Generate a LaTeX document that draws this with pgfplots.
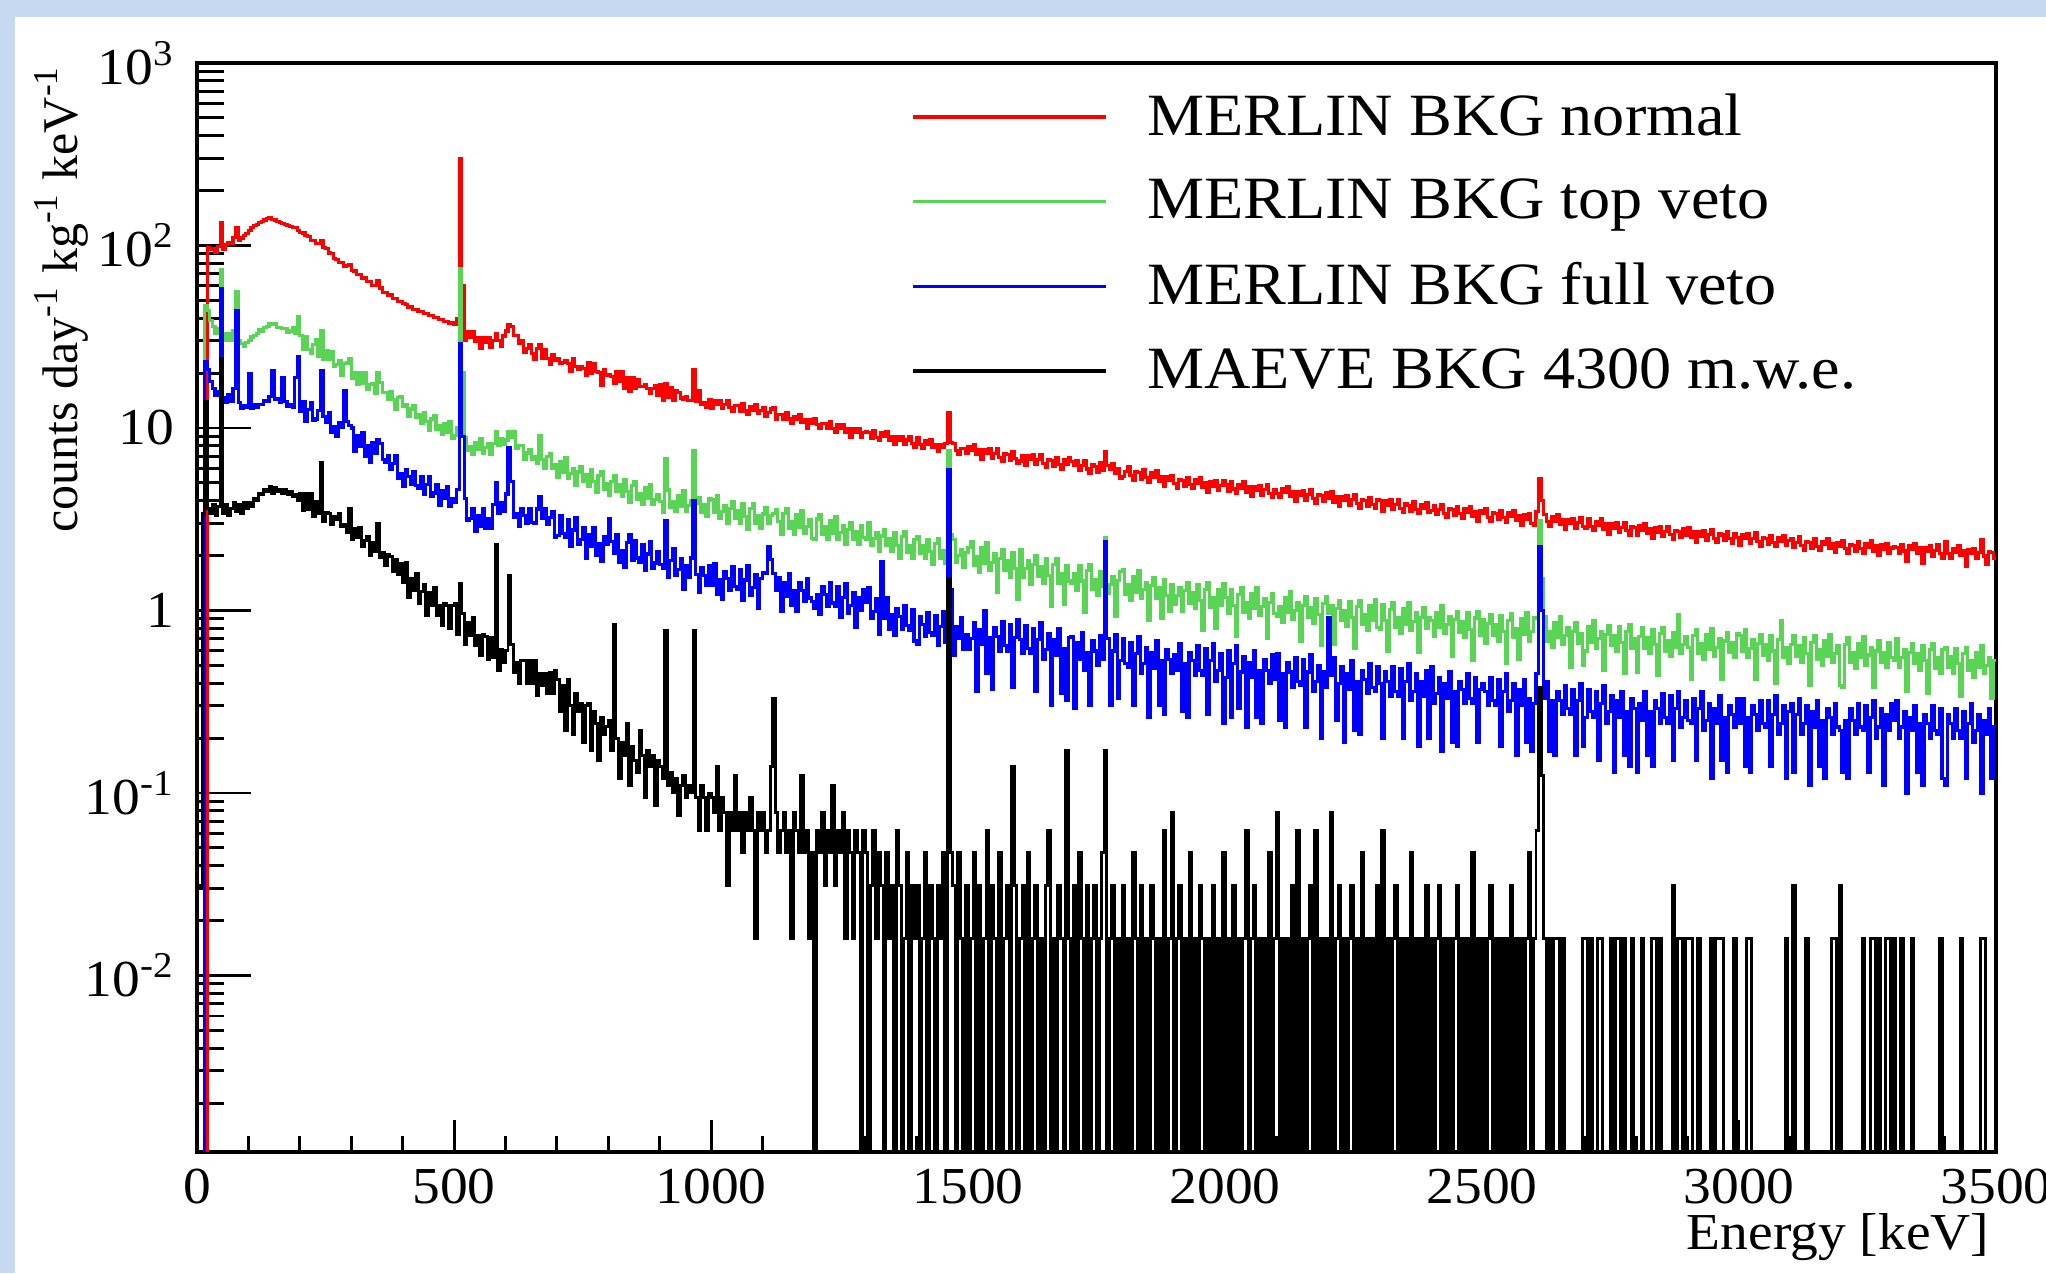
\documentclass[border=0pt]{standalone}
\usepackage{fontspec}
\setmainfont{Liberation Serif}[FakeStretch=1.07]
\newfontfamily\ylabfont{Liberation Serif}
\usepackage{pgfplots}
\usepackage{pgfplotstable}
\pgfplotsset{compat=1.18}

\definecolor{slideblue}{RGB}{198,217,240}
\definecolor{rootgreen}{RGB}{89,212,84}

% energy [keV] (bin low edge), normal, top veto, full veto, MAEVE; 1e-4 = empty bin
\pgfplotstableread{
E R G B K
0 1e-4 1e-4 1e-4 0.031
5 1e-4 1e-4 1e-4 0.031
10 1e-4 1e-4 1e-4 3.4
15 1e-4 47 23 14
20 97 44 21 3.6
25 95 39 18 3.4
30 96 36 16.5 3.8
35 92 33 15 3.3
40 99 35 15.8 3.7
45 133 74 58 24
50 95 33 14.6 3.4
55 101 30 13.8 3.8
60 104 33 15.2 3.3
65 102 30 14 3.6
70 111 34 16.5 3.9
75 125 56 44 3.5
80 107 30 13.8 3.8
85 110 29 12.8 3.4
90 113 28 13.2 3.9
95 116 29.5 12.9 3.6
100 121 30 19.8 3.9
105 126 31.5 12.8 3.7
110 128 32 13.4 4.1
115 131 33 13 4.0
120 133 34.5 13.5 4.4
125 136 34 13.4 4.3
130 138 35.5 14.1 4.6
135 140 36 13.9 4.5
140 142 37.5 14.8 4.8
145 139 37 20.6 4.4
150 138 37.5 14.3 4.7
155 136 35.5 14.5 4.5
160 134 35.5 13.8 4.6
165 132 35 19 4.4
170 131 35 13.9 4.6
175 128 33.5 13.2 4.3
180 127 34 13.4 4.5
185 126 35.5 12.9 4.2
190 125 33 19 4.3
195 121 41 24.5 4.0
200 118 32.1 12.4 4.35
205 117 27.0 13.9 3.55
210 113 31.6 10.9 4.35
215 112 27.0 12.6 3.57
220 107 25.7 13.8 4.37
225 107 28.6 11.0 3.26
230 102 30.5 11.2 3.97
235 102 24.7 12.5 3.42
240 107 34 20.6 6.5
245 97 23.7 11.6 3.06
250 96 26.5 10.7 3.45
255 91 23.8 12.1 3.42
260 90 26.2 9.5 2.96
265 85 21.8 10.2 3.26
270 84 22.2 9.0 3.15
275 81 23.4 10.7 3.39
280 81 19.3 10.1 2.88
285 77 22.5 16 2.96
290 78 22.7 10.8 2.67
295 79 24 10.3 3.6
300 73 18.8 10.0 2.46
305 72.5 20.1 7.4 2.8
310 69 17.3 9.1 2.52
315 69 20.0 7.9 2.86
320 66 17.5 9.4 2.25
325 66.5 20.2 7.0 2.43
330 63.5 16.3 8.0 2.54
335 63.5 17.4 6.5 2.0
340 60.5 17.6 8.3 2.35
345 60.5 15.5 7.3 2.11
350 64 20 8.6 3.0
355 58.5 17.7 8.2 1.95
360 55.5 15.6 6.7 2.09
365 55.5 15.7 6.5 1.76
370 53.5 14.3 7.1 2.04
375 53.5 15.9 5.9 1.97
380 51.5 14.4 6.4 1.64
385 51.5 12.6 7.1 1.9
390 49.5 14.7 5.3 1.58
395 49.5 14.9 5.6 1.81
400 48 13.2 4.8 1.42
405 47.5 13.5 5.9 1.84
410 46 11.5 5.4 1.18
415 46 12.7 4.9 1.5
420 44.8 13.2 5.8 1.28
425 44.8 11.4 4.85 1.6
430 43.3 11.8 4.65 1.09
435 43.3 10.6 5.4 1.27
440 42.2 12.2 4.3 1.38
445 42.2 10.8 4.9 0.94
450 41.3 9.7 5.4 1.25
455 41.3 11.2 4.2 1.07
460 40.3 11.7 4.4 1.34
465 40.3 9.8 4.9 0.94
470 39.3 10.3 3.75 1.07
475 39.3 9.2 4.55 0.83
480 38.3 10.6 4.1 1.09
485 38.3 9.4 4.8 1.06
490 37.6 10.8 3.7 0.8
495 37.6 8.8 4.1 1.06
500 37 9.1 3.9 1.09
505 40 10 4.6 0.74
510 300 75 29 1.4
515 60 20 9 0.96
520 30.2 8.9 4.1 0.65
525 33.6 7.5 3.1 0.86
530 31.5 7.9 3.2 0.73
535 33.8 7.2 3.6 0.92
540 29.8 8.3 2.7 0.64
545 31.4 7.6 3.3 0.73
550 27.3 8.7 2.9 0.57
555 31.2 7.3 3.6 0.74
560 29.3 7.8 2.8 0.72
565 31.4 8.2 3.2 0.54
570 27.6 7.2 2.8 0.71
575 30.3 8.2 3.8 0.55
580 33 9.5 5.0 2.3
585 30.1 8.0 3.4 0.47
590 28.1 8.7 3.9 0.61
595 31.9 8.1 3.5 0.52
600 34 8.6 4.35 0.6
605 37 9.6 7.8 1.55
610 36 8.9 5.1 0.65
615 32 9.6 3.25 0.46
620 32.2 7.7 3.4 0.52
625 29.2 8.0 2.9 0.4
630 30.2 8.0 3.6 0.53
635 25.9 6.7 3.3 0.53
640 27.3 7.3 3.0 0.4
645 28.6 7.6 3.6 0.53
650 25.7 6.7 3.05 0.4
655 23.9 7.0 3.0 0.53
660 27.3 6.4 3.6 0.34
665 28.5 9.1 4.2 0.45
670 24.2 6.7 3.2 0.39
675 26.8 6.0 3.6 0.45
680 24 7.0 2.95 0.35
685 22.3 7.2 3.25 0.46
690 25.2 6.0 3.5 0.35
695 23.5 6.3 2.5 0.47
700 24.1 5.34 2.58 0.42
705 22.7 6.53 3.32 0.28
710 22.9 5.70 2.65 0.39
715 23.5 6.87 2.51 0.22
720 22.5 5.30 3.15 0.42
725 20.5 5.64 2.24 0.3
730 23.9 6.03 2.76 0.21
735 21.8 4.85 3.21 0.35
740 20.9 5.74 2.29 0.28
745 21.7 6.17 2.46 0.31
750 21.2 5.08 2.83 0.19
755 19.3 5.56 1.94 0.3
760 22.7 4.76 2.61 0.31
765 19.8 5.92 2.25 0.17
770 22.5 5.08 2.86 0.28
775 20.4 4.41 2.0 0.24
780 20.2 5.49 2.32 0.15
785 17.1 5.78 1.86 0.26
790 20.8 4.63 2.53 0.21
795 19.4 4.98 2.31 0.23
800 19.7 4.29 3.2 0.25
805 19.2 5.08 2.38 0.17
810 17.5 5.46 2.05 0.84
815 20.5 4.49 2.61 0.2
820 18.0 4.92 1.84 0.12
825 20.3 4.21 2.14 0.19
830 16.4 5.23 1.72 0.16
835 18.8 4.49 2.35 0.24
840 15.9 3.90 2.6 0.11
845 18.9 4.84 1.88 0.18
850 16.5 5.11 2.42 0.15
855 18.4 4.08 1.94 0.13
860 16.8 4.39 1.84 0.22
865 16.8 3.83 2.31 0.16
870 17.3 4.69 1.65 0.095
875 16.4 4.09 2.04 0.17
880 15.4 4.92 2.38 0.14
885 16.4 3.80 1.69 0.16
890 17.1 4.05 1.82 0.085
895 15.1 4.33 2.10 0.15
900 17.3 3.97 1.78 0.14
905 14.2 3.46 1.69 0.12
910 17.5 6.8 3.1 0.78
915 14.7 4.57 1.51 0.11
920 16.6 3.67 1.87 0.13
925 14.2 3.97 2.18 0.1
930 16.0 3.47 1.55 0.12
935 15.6 4.27 1.67 0.075
940 14.6 3.74 1.92 0.11
945 14.3 4.52 1.31 0.125
950 14.8 3.51 1.77 0.094
955 14.2 3.75 1.52 0.11
960 14.1 4.02 1.94 0.1
965 21 7.5 4.0 0.78
970 13.9 3.87 1.58 0.094
975 16.1 4.18 1.26 0.062
980 13.4 3.45 1.72 0.11
985 13.8 3.80 1.56 0.094
990 13.0 3.27 1.37 0.062
995 14.4 4.08 1.76 0.1
1000 12.8 4.03 1.38 0.094
1005 14.1 3.44 1.81 0.078
1010 13.5 4.27 1.23 0.14
1015 14.2 3.19 1.48 0.062
1020 12.8 3.48 1.15 0.094
1025 13.5 3.78 1.64 0.078
1030 14.1 2.99 1.49 0.031
1035 12.9 3.63 1.29 0.078
1040 12.3 3.96 1.73 0.062
1045 13.3 3.21 1.35 0.125
1050 13.3 3.54 1.30 0.062
1055 12.4 3.01 1.68 0.078
1060 13.6 3.83 1.14 0.047
1065 12.4 3.27 1.47 0.078
1070 11.9 2.79 1.77 0.062
1075 13.1 3.63 1.21 0.094
1080 12.5 3.87 1.34 0.062
1085 13.4 3.0 1.58 0.016
1090 12.0 3.30 1.03 0.078
1095 12.5 2.80 1.49 0.062
1100 12.9 3.38 1.62 0.078
1105 11.6 3.68 1.6 0.047
1110 12.2 2.99 2.25 0.062
1115 12.7 3.30 1.9 0.14
1120 13 3.4 1.6 0.33
1125 11.1 3.57 1.28 0.078
1130 11.9 3.06 1.52 0.047
1135 11.8 2.60 0.99 0.062
1140 11.1 3.39 1.42 0.078
1145 12.2 3.61 1.20 0.047
1150 11.2 2.81 1.59 0.062
1155 10.6 3.09 1.07 0.016
1160 11.6 2.62 1.29 0.078
1165 11.1 3.36 0.99 0.062
1170 11.9 2.86 1.43 0.047
1175 10.7 3.55 1.29 0.125
1180 11.1 2.66 1.12 0.047
1185 10.0 2.90 1.50 0.062
1190 11.1 3.15 1.17 0.016
1195 10.6 2.49 1.12 0.047
1200 11.3 2.44 1.02 1e-4
1205 10.4 3.17 1.23 0.062
1210 9.9 3.37 0.95 0.047
1215 10.6 2.61 1.36 0.078
1220 10.6 2.88 1.23 0.031
1225 9.9 2.44 1.05 0.062
1230 10.8 3.11 1.42 0.047
1235 9.9 2.65 1.10 0.11
1240 9.4 3.29 1.05 0.031
1245 10.4 2.45 1.36 0.062
1250 9.9 2.68 0.92 0.047
1255 10.5 2.91 1.18 0.078
1260 9.5 2.30 1.41 0.016
1265 9.9 2.78 0.96 0.062
1270 8.9 3.02 1.07 0.047
1275 9.9 2.46 1.25 0.016
1280 9.4 2.70 0.81 0.062
1285 9.9 2.30 1.17 0.047
1290 8.9 2.93 1.0 1e-4
1295 9.4 2.50 1.30 0.062
1300 9.5 2.45 1.11 0.047
1305 9.4 3.04 1.33 1e-4
1310 8.8 2.26 0.90 0.031
1315 9.7 2.47 0.99 0.062
1320 8.9 2.67 1.16 0.016
1325 8.5 2.12 0.74 0.047
1330 9.4 2.56 1.85 0.031
1335 9.0 2.78 0.90 1e-4
1340 9.5 2.26 1.18 0.047
1345 8.6 2.48 0.79 0.016
1350 9.0 2.11 0.95 0.031
1355 8.1 2.68 0.73 1e-4
1360 9.0 2.28 1.03 0.062
1365 8.6 1.94 0.93 0.031
1370 9.0 2.53 0.79 1e-4
1375 8.1 2.69 1.06 0.016
1380 8.6 2.08 0.83 0.047
1385 9.0 2.28 0.78 1e-4
1390 8.2 1.93 1.01 0.031
1395 7.8 2.46 0.68 0.016
1400 8.85 2.53 0.65 0.031
1405 8.13 2.06 0.93 1e-4
1410 7.76 2.27 0.84 0.016
1415 8.53 1.93 0.72 0.047
1420 8.15 2.45 0.98 1e-4
1425 8.67 2.10 0.76 0.031
1430 7.81 1.79 0.73 0.016
1435 8.16 2.33 0.94 1e-4
1440 7.40 2.49 0.64 0.031
1445 8.16 1.93 0.82 0.016
1450 7.80 2.13 0.99 0.047
1455 8.23 1.81 0.67 1e-4
1460 12.2 7.5 5.9 1.5
1465 8.3 2.6 1.3 0.047
1470 8.24 2.46 0.57 0.031
1475 7.53 1.84 0.82 1e-4
1480 7.18 2.0 0.70 0.047
1485 7.75 2.17 0.91 0.016
1490 7.73 1.72 0.61 1e-4
1495 7.25 2.08 0.74 0.031
1500 7.93 2.22 0.61 1e-4
1505 7.51 2.40 0.70 0.016
1510 8.14 1.76 0.86 0.047
1515 7.14 1.98 0.36 1e-4
1520 7.62 1.62 0.79 0.031
1525 6.71 2.20 0.65 1e-4
1530 7.62 1.81 1.0 0.016
1535 7.23 2.36 0.45 0.062
1540 7.70 1.65 0.71 1e-4
1545 6.80 1.84 0.37 0.031
1550 7.27 2.04 0.81 0.016
1555 7.73 1.25 0.72 1e-4
1560 6.92 1.93 0.60 0.047
1565 6.52 2.15 0.87 1e-4
1570 7.27 1.65 0.64 0.016
1575 7.16 1.87 0.60 0.031
1580 6.64 1.52 0.84 1e-4
1585 7.44 2.07 0.38 0.14
1590 6.78 1.69 0.71 0.031
1595 6.40 1.15 0.89 1e-4
1600 6.60 2.16 0.69 0.016
1605 7.06 1.51 0.58 0.031
1610 6.21 1.69 0.83 1e-4
1615 7.06 1.87 0.62 0.047
1620 6.69 1.39 0.58 1e-4
1625 7.13 1.78 0.80 0.016
1630 6.30 1.99 0.36 0.031
1635 6.74 1.53 0.69 1e-4
1640 7.17 1.73 0.86 0.016
1645 6.41 1.41 0.54 1e-4
1650 6.05 1.92 0.61 0.031
1655 6.75 1.56 0.75 0.062
1660 6.65 1.05 0.30 1e-4
1665 6.17 1.78 0.69 0.016
1670 6.91 1.93 0.57 1e-4
1675 6.30 1.41 0.80 0.031
1680 5.95 1.59 0.35 0.016
1685 6.69 1.08 0.62 1e-4
1690 6.34 1.77 0.32 0.17
1695 6.88 1.45 0.71 0.016
1700 6.55 1.40 0.72 1e-4
1705 6.21 1.59 0.29 0.031
1710 6.63 1.29 0.67 1e-4
1715 5.85 1.77 0.54 0.047
1720 6.25 1.45 0.76 0.016
1725 6.66 0.98 0.47 1e-4
1730 5.96 1.65 0.59 0.031
1735 5.62 1.78 0.30 1e-4
1740 6.27 1.31 0.68 0.016
1745 6.18 1.48 0.60 0.031
1750 5.73 1.21 0.50 1e-4
1755 6.43 1.64 0.73 0.016
1760 5.86 1.35 0.54 0.047
1765 7.4 2.5 2.4 0.17
1770 6.23 1.24 0.70 1e-4
1775 5.9 1.39 0.30 0.016
1780 6.41 1.53 0.60 0.031
1785 5.62 0.93 0.74 1e-4
1790 6.0 1.46 0.33 0.016
1795 5.28 1.63 0.53 1e-4
1800 5.43 1.67 0.70 0.031
1805 5.80 1.22 0.51 1e-4
1810 6.17 1.39 0.49 0.016
1815 5.50 1.13 0.67 1e-4
1820 5.19 1.54 0.30 0.047
1825 5.77 1.26 0.58 0.016
1830 5.68 1.66 0.72 1e-4
1835 5.25 1.16 0.45 0.031
1840 5.89 1.30 0.51 1e-4
1845 5.35 1.43 0.63 0.016
1850 5.05 0.88 0.26 1e-4
1855 5.67 1.37 0.59 0.031
1860 5.37 1.52 0.48 0.016
1865 5.81 1.17 0.68 1e-4
1870 5.09 1.33 0.30 0.016
1875 5.43 0.90 0.53 1e-4
1880 4.77 1.48 0.27 0.062
1885 5.42 1.21 0.61 1e-4
1890 5.13 0.99 0.54 0.016
1895 5.46 1.38 0.45 0.078
1900 4.97 1.08 0.57 1e-4
1905 4.69 1.21 0.47 0.016
1910 5.23 1.34 0.66 0.031
1915 5.16 0.99 0.28 1e-4
1920 4.80 1.28 0.51 0.016
1925 5.38 1.43 0.26 1e-4
1930 4.91 1.10 0.59 0.047
1935 4.64 1.25 0.53 1e-4
1940 5.22 1.02 0.44 0.016
1945 4.96 1.39 0.64 1e-4
1950 5.38 1.13 0.47 0.031
1955 4.72 0.78 0.44 0.016
1960 5.05 1.30 0.62 1e-4
1965 4.45 1.42 0.27 0.016
1970 5.06 1.04 0.53 1e-4
1975 4.80 1.17 0.66 0.031
1980 5.13 0.80 0.41 1e-4
1985 4.53 1.31 0.47 0.016
1990 4.85 1.07 0.58 1e-4
1995 5.16 1.41 0.24 0.047
2000 4.87 1.18 0.43 1e-4
2005 4.51 0.96 0.60 0.016
2010 5.07 1.31 0.26 1e-4
2015 4.63 1.07 0.51 0.031
2020 4.38 0.72 0.64 1e-4
2025 4.92 1.23 0.29 0.016
2030 4.68 1.34 0.46 1e-4
2035 5.08 0.98 0.56 0.016
2040 4.46 1.11 0.23 0.062
2045 4.77 0.91 0.52 1e-4
2050 4.20 1.24 0.43 0.016
2055 4.78 1.02 0.60 0.031
2060 4.54 1.34 0.26 1e-4
2065 4.84 0.94 0.47 0.016
2070 4.29 1.05 0.24 1e-4
2075 4.59 1.16 0.54 0.016
2080 4.89 0.70 0.47 1e-4
2085 4.37 1.11 0.40 0.047
2090 4.14 1.24 0.57 1e-4
2095 4.61 0.96 0.42 0.016
2100 4.38 0.93 0.58 0.078
2105 4.14 1.05 0.25 1e-4
2110 4.65 0.86 0.45 0.016
2115 4.42 1.18 0.23 1e-4
2120 4.80 0.97 0.52 0.016
2125 4.20 1.27 0.46 1e-4
2130 4.49 0.89 0.38 0.031
2135 3.95 1.0 0.55 1e-4
2140 4.50 1.11 0.41 0.062
2145 4.27 0.68 0.39 1e-4
2150 4.55 1.06 0.54 0.016
2155 4.01 1.19 0.23 1e-4
2160 4.30 0.92 0.46 0.016
2165 4.58 1.04 0.57 0.031
2170 4.09 0.85 0.36 1e-4
2175 3.86 1.16 0.41 0.062
2180 4.32 0.95 0.50 1e-4
2185 4.25 0.64 0.20 0.016
2190 3.94 1.09 0.46 1e-4
2195 4.43 1.19 0.38 0.016
2200 4.12 0.96 0.91 1e-4
2205 4.48 1.07 0.44 0.078
2210 3.93 0.65 0.55 1e-4
2215 4.20 1.02 0.25 0.016
2220 3.70 1.14 0.40 0.031
2225 4.21 0.88 0.49 1e-4
2230 4.0 1.0 0.19 0.016
2235 4.27 0.82 0.45 1e-4
2240 3.78 1.12 0.37 0.016
2245 4.04 0.92 0.53 0.031
2250 4.31 0.62 0.22 1e-4
2255 3.86 1.05 0.41 0.016
2260 3.64 1.14 0.21 1e-4
2265 4.07 0.84 0.47 0.047
2270 4.02 0.95 0.42 1e-4
2275 3.73 0.78 0.35 0.016
2280 4.18 1.06 0.51 1e-4
2285 3.82 0.88 0.38 0.016
2290 3.62 1.15 0.36 1e-4
2295 4.07 0.81 0.49 0.031
2300 3.99 0.79 0.40 1e-4
2305 3.50 1.08 0.20 0.062
2310 3.99 0.88 0.46 1e-4
2315 3.78 0.60 0.41 0.016
2320 4.04 1.01 0.34 1e-4
2325 3.56 1.10 0.49 0.016
2330 3.82 0.81 0.36 0.031
2335 4.06 0.91 0.34 1e-4
2340 3.64 0.75 0.48 0.016
2345 3.43 1.02 0.20 1e-4
2350 3.83 0.84 0.41 0.016
2355 3.77 1.11 0.51 1e-4
2360 3.51 0.78 0.32 0.047
2365 3.93 0.87 0.36 1e-4
2370 3.59 0.97 0.45 0.016
2375 3.39 0.59 0.18 1e-4
2380 3.81 0.92 0.41 0.016
2385 3.61 1.04 0.34 1e-4
2390 3.92 0.80 0.47 0.031
2395 3.44 0.91 0.20 1e-4
2400 3.53 0.88 0.49 0.016
2405 3.77 0.72 0.31 1e-4
2410 3.34 0.98 0.35 0.016
2415 3.58 0.81 0.43 0.031
2420 3.81 1.06 0.17 1e-4
2425 3.41 0.75 0.40 0.016
2430 3.23 0.84 0.33 1e-4
2435 3.61 0.93 0.46 0.016
2440 3.56 0.56 0.19 1e-4
2445 3.31 0.89 0.36 0.016
2450 3.71 0.99 0.18 0.031
2455 3.39 0.76 0.41 1e-4
2460 3.21 0.87 0.37 0.016
2465 3.61 0.71 0.31 1e-4
2470 3.43 0.97 0.45 0.016
2475 3.73 0.79 0.33 1e-4
2480 3.27 0.53 0.31 0.047
2485 3.50 0.91 0.43 1e-4
2490 3.08 0.99 0.19 0.016
2495 3.52 0.73 0.37 1e-4
2500 3.40 0.89 0.40 0.016
2505 3.63 0.66 0.36 1e-4
2510 3.25 0.85 0.30 0.016
2515 3.07 0.95 0.43 0.031
2520 3.43 0.73 0.32 1e-4
2525 3.39 0.84 0.30 0.016
2530 3.14 0.68 0.42 1e-4
2535 3.53 0.94 0.18 0.016
2540 3.22 0.77 0.36 1e-4
2545 3.05 0.51 0.45 0.016
2550 3.43 0.88 0.28 1e-4
2555 3.26 0.96 0.32 0.031
2560 3.54 0.71 0.40 1e-4
2565 3.11 0.80 0.16 0.016
2570 3.33 0.54 0.37 1e-4
2575 2.93 0.90 0.30 0.016
2580 3.34 0.74 0.42 1e-4
2585 3.17 0.97 0.19 0.016
2590 3.38 0.68 0.33 0.047
2595 2.99 0.77 0.17 1e-4
2600 2.92 0.91 0.31 0.016
2605 3.5 0.9 0.45 0.062
2610 5.25 3.1 2.25 0.38
2615 4.0 1.5 1.0 0.125
2620 3.34 0.93 0.33 0.016
2625 3.06 0.68 0.41 1e-4
2630 2.89 0.77 0.17 0.016
2635 3.26 0.63 0.32 1e-4
2640 3.09 0.86 0.16 0.016
2645 3.36 0.71 0.36 0.016
2650 2.95 0.93 0.32 1e-4
2655 3.15 0.65 0.27 0.016
2660 2.78 0.73 0.39 1e-4
2665 3.16 0.81 0.29 1e-4
2670 3.0 0.49 0.27 1e-4
2675 3.20 0.77 0.37 1e-4
2680 2.83 0.86 0.16 1e-4
2685 3.03 0.66 0.32 1e-4
2690 3.23 0.75 0.40 1e-4
2695 2.89 0.50 0.18 0.016
2700 2.82 0.60 0.26 0.016
2705 3.17 0.82 0.37 1e-4
2710 2.89 0.67 0.28 0.016
2715 2.73 0.88 0.26 1e-4
2720 3.08 0.62 0.36 1e-4
2725 2.92 0.70 0.15 0.016
2730 3.17 0.77 0.31 0.016
2735 2.78 0.47 0.39 1e-4
2740 2.98 0.74 0.24 1e-4
2745 2.62 0.83 0.28 1e-4
2750 2.98 0.64 0.34 0.016
2755 2.83 0.73 0.13 1e-4
2760 3.02 0.60 0.32 0.016
2765 2.67 0.82 0.26 0.016
2770 2.86 0.67 0.36 1e-4
2775 3.05 0.45 0.16 0.016
2780 2.73 0.77 0.28 1e-4
2785 2.58 0.84 0.14 1e-4
2790 2.88 0.62 0.33 0.016
2795 2.85 0.70 0.29 1e-4
2800 2.59 0.46 0.13 1e-4
2805 2.91 0.72 0.31 1e-4
2810 2.76 0.81 0.25 0.016
2815 3.01 0.62 0.36 1e-4
2820 2.64 0.71 0.16 1e-4
2825 2.82 0.58 0.28 1e-4
2830 2.48 0.79 0.14 0.016
2835 2.83 0.65 0.32 0.016
2840 2.69 0.44 0.29 1e-4
2845 2.87 0.75 0.24 0.016
2850 2.54 0.81 0.35 1e-4
2855 2.72 0.60 0.26 1e-4
2860 2.89 0.68 0.24 1e-4
2865 2.60 0.56 0.34 1e-4
2870 2.46 0.76 0.15 0.031
2875 2.74 0.63 0.29 1e-4
2880 2.70 0.95 0.36 0.016
2885 2.51 0.58 0.23 0.016
2890 2.82 0.65 0.26 1e-4
2895 2.58 0.72 0.32 0.016
2900 2.86 0.63 0.25 0.016
2905 2.51 0.42 0.24 0.016
2910 2.69 0.73 0.33 1e-4
2915 2.37 0.79 0.15 1e-4
2920 2.70 0.58 0.29 0.016
2925 2.56 0.66 0.36 1e-4
2930 2.73 0.54 0.22 1e-4
2935 2.43 0.74 0.25 1e-4
2940 2.60 0.61 0.31 1e-4
2945 2.78 0.80 0.12 0.016
2950 2.48 0.56 0.29 1e-4
2955 2.36 0.63 0.24 0.016
2960 2.63 0.70 0.34 0.016
2965 2.59 0.42 0.15 0.016
2970 2.41 0.68 0.26 1e-4
2975 2.71 0.76 0.13 1e-4
2980 2.48 0.59 0.30 1e-4
2985 2.34 0.67 0.27 1e-4
2990 2.65 0.55 0.23 0.016
2995 2.51 0.75 0.33 1e-4
3000 2.28 0.73 0.24 1e-4
3005 2.59 0.60 0.33 1e-4
3010 2.47 0.79 0.14 1e-4
3015 2.63 0.55 0.26 0.016
3020 2.32 0.62 0.13 0.016
3025 2.48 0.69 0.30 1e-4
3030 2.66 0.42 0.27 1e-4
3035 2.38 0.66 0.22 1e-4
3040 2.24 0.74 0.32 1e-4
3045 2.50 0.57 0.24 1e-4
3050 2.48 0.65 0.23 1e-4
3055 2.30 0.53 0.32 1e-4
3060 2.58 0.73 0.14 1e-4
3065 2.35 0.60 0.27 1e-4
3070 2.23 0.40 0.34 1e-4
3075 2.51 0.69 0.21 1e-4
3080 2.38 0.88 0.24 1e-4
3085 2.58 0.55 0.30 1e-4
3090 2.28 0.63 0.12 0.016
3095 2.43 0.51 0.28 1e-4
3100 2.49 0.65 0.31 1e-4
3105 2.21 0.73 0.13 0.031
3110 2.36 0.56 0.27 1e-4
3115 2.53 0.64 0.33 1e-4
3120 2.26 0.52 0.21 1e-4
3125 2.14 0.71 0.24 1e-4
3130 2.39 0.58 0.30 0.016
3135 2.37 0.39 0.11 1e-4
3140 2.19 0.67 0.28 1e-4
3145 2.47 0.73 0.23 1e-4
3150 2.25 0.54 0.32 1e-4
3155 2.14 0.61 0.14 1e-4
3160 2.40 0.50 0.25 1e-4
3165 2.29 0.68 0.12 1e-4
3170 2.49 0.56 0.29 1e-4
3175 2.19 0.74 0.26 1e-4
3180 2.34 0.52 0.21 0.016
3185 2.07 0.58 0.31 0.016
3190 2.35 0.64 0.23 1e-4
3195 2.24 0.39 0.22 0.031
3200 2.43 0.38 0.13 1e-4
3205 2.18 0.65 0.25 1e-4
3210 2.06 0.71 0.12 1e-4
3215 2.31 0.52 0.29 1e-4
3220 2.28 0.59 0.25 1e-4
3225 2.12 0.48 0.21 1e-4
3230 2.39 0.66 0.31 1e-4
3235 2.18 0.55 0.23 1e-4
3240 2.06 0.72 0.22 0.016
3245 2.33 0.50 0.30 1e-4
3250 2.21 0.57 0.13 1e-4
3255 2.41 0.63 0.26 0.016
3260 2.12 0.38 0.32 0.016
3265 2.27 0.60 0.20 1e-4
3270 2.0 0.68 0.23 0.016
3275 2.29 0.52 0.29 1e-4
3280 2.17 0.59 0.11 1e-4
3285 2.32 0.49 0.27 0.016
3290 2.06 0.67 0.22 0.016
3295 2.20 0.55 0.31 1e-4
3300 2.24 0.53 0.25 0.016
3305 2.21 0.70 0.32 1e-4
3310 2.06 0.49 0.20 1e-4
3315 2.31 0.55 0.23 0.016
3320 2.12 0.61 0.28 1e-4
3325 1.85 0.36 0.10 1e-4
3330 2.26 0.59 0.26 1e-4
3335 2.15 0.66 0.22 0.016
3340 2.34 0.51 0.30 1e-4
3345 2.05 0.58 0.13 1e-4
3350 2.20 0.47 0.24 1e-4
3355 1.80 0.64 0.11 1e-4
3360 2.22 0.53 0.27 1e-4
3365 2.11 0.35 0.24 1e-4
3370 2.26 0.61 0.20 1e-4
3375 1.99 0.66 0.30 1e-4
3380 2.14 0.48 0.22 1e-4
3385 2.29 0.55 0.21 1e-4
3390 2.05 0.45 0.29 0.016
3395 1.94 0.61 0.12 1e-4
3400 2.40 0.63 0.11 1e-4
3405 2.06 0.49 0.27 1e-4
3410 1.94 0.56 0.24 1e-4
3415 2.19 0.45 0.20 1e-4
3420 2.09 0.62 0.29 1e-4
3425 2.27 0.51 0.22 1e-4
3430 2.0 0.34 0.20 0.016
3435 2.14 0.58 0.28 1e-4
3440 1.75 0.63 0.12 1e-4
3445 2.15 0.47 0.24 1e-4
3450 2.05 0.53 0.31 1e-4
3455 2.18 0.43 0.19 1e-4
3460 1.94 0.59 0.22 1e-4
3465 2.08 0.49 0.27 1e-4
3470 2.45 0.64 0.10 0.016
3475 1.99 0.45 0.25 0.016
3480 1.78 0.50 0.21 1e-4
3485 2.10 0.55 0.29 1e-4
3490 2.08 0.33 0.12 1e-4
3495 1.93 0.53 0.23 1e-4
3500 1.93 0.53 0.23 1e-4
}\spectra

\begin{document}
\begin{tikzpicture}
\useasboundingbox (0,0) rectangle (552.4pt,343.7pt);
\clip (0,0) rectangle (552.4pt,343.7pt);
\fill[slideblue] (0,0) rectangle (552.4pt,343.7pt);
\fill[white] (4.05pt,0) rectangle (552.4pt,339pt);
\begin{axis}[
    at={(53.2pt,32.7pt)}, anchor=south west,
    scale only axis, width=485.7pt, height=294pt,
    xmin=0, xmax=3500,
    ymode=log, ymin=1.08e-3, ymax=1000,
    axis line style={line width=1.1pt},
    tick align=inside, tick pos=left,
    tick style={black, line width=0.8pt},
    major tick length=14.6pt, minor tick length=7.3pt,
    xtick style={/pgfplots/major tick length=8.7pt, /pgfplots/minor tick length=4.3pt},
    xtick={0,500,1000,1500,2000,2500,3000,3500},
    xticklabels={0,500,1000,1500,2000,2500,3000,3500},
    minor x tick num=4,
    ytick={0.01,0.1,1,10,100,1000},
    yticklabels={10\textsuperscript{-2},10\textsuperscript{-1},1,10,10\textsuperscript{2},10\textsuperscript{3}},
    minor ytick={0.002,0.003,0.004,0.005,0.006,0.007,0.008,0.009,
                 0.02,0.03,0.04,0.05,0.06,0.07,0.08,0.09,
                 0.2,0.3,0.4,0.5,0.6,0.7,0.8,0.9,
                 2,3,4,5,6,7,8,9,20,30,40,50,60,70,80,90,
                 200,300,400,500,600,700,800,900},
    ticklabel style={font=\fontsize{14}{16}\selectfont},
    xticklabel style={anchor=base, inner sep=0pt, yshift=-13.8pt},
    yticklabel style={anchor=east, inner sep=0pt, xshift=-5.9pt},
    xlabel={Energy [keV]},
    every axis x label/.style={at={(axis description cs:0.9967,-0.09)}, anchor=base east,
        inner sep=0pt, font=\fontsize{14}{16}\selectfont},
    ylabel={counts day\textsuperscript{-1} kg\textsuperscript{-1} keV\textsuperscript{-1}},
    every axis y label/.style={at={(axis description cs:-0.0667,0.998)}, rotate=90,
        anchor=base east, inner sep=0pt, font=\ylabfont\fontsize{13.5}{16}\selectfont},
    legend cell align=left,
    legend image code/.code={\draw[#1, line width=0.9pt] (0pt,0pt) -- (52pt,0pt);},
    legend style={at={(0.3966,0.976)}, anchor=north west, draw=none, fill=none,
        font=\fontsize{16.2}{19}\selectfont, row sep=8.3pt, column sep=9.8pt,
        inner sep=0pt, nodes={inner sep=1pt}},
]
\addplot[red, const plot, line width=0.85pt] table[x=E, y=R] {\spectra};
\addlegendentry{MERLIN BKG normal}
\addplot[rootgreen, const plot, line width=0.85pt] table[x=E, y=G] {\spectra};
\addlegendentry{MERLIN BKG top veto}
\addplot[blue, const plot, line width=0.85pt] table[x=E, y=B] {\spectra};
\addlegendentry{MERLIN BKG full veto}
\addplot[black, const plot, line width=0.8pt] table[x=E, y=K] {\spectra};
\addlegendentry{MAEVE BKG 4300 m.w.e.}
\end{axis}
\end{tikzpicture}
\end{document}
